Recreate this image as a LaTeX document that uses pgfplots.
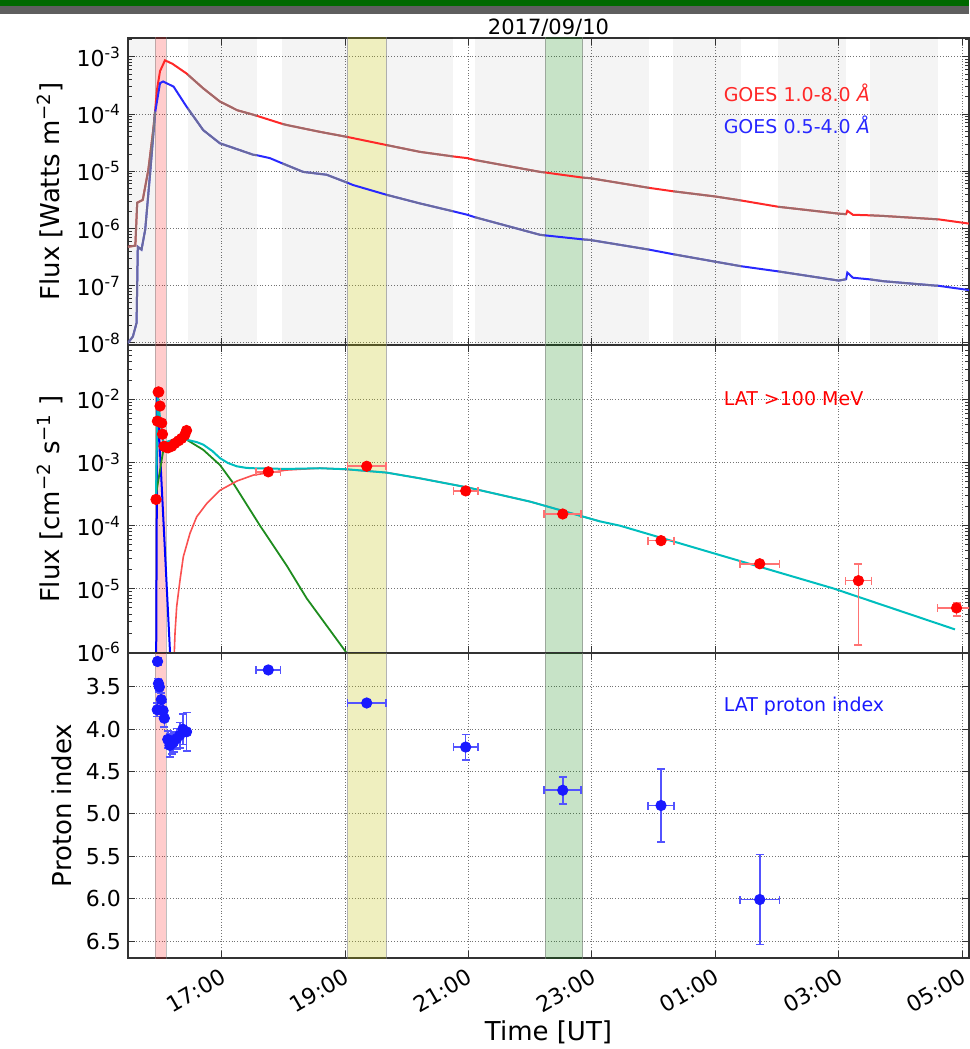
\documentclass[border=0pt]{standalone}
\usepackage{fontspec}
\setmainfont{DejaVu Sans}
\usepackage{pgfplots}
\pgfplotsset{compat=1.18}
\usepackage{pgfplotstable}

\definecolor{goesred}{RGB}{255,40,40}
\definecolor{goesblue}{RGB}{40,40,255}
\definecolor{fitcyan}{RGB}{0,190,190}
\definecolor{fitgreen}{RGB}{30,140,30}
\definecolor{fitred}{RGB}{250,80,80}
\definecolor{ptblue}{RGB}{25,25,255}
\definecolor{bandyel}{RGB}{191,191,0}
\definecolor{bandgrn}{RGB}{0,128,0}
\definecolor{topgreen}{RGB}{0,105,0}
\definecolor{topgrey}{RGB}{95,95,95}

% GOES 1.0-8.0 A
\pgfplotstableread{
t f
15.48 4.79e-7
15.60 5.01e-7
15.63 2.82e-6
15.72 3.16e-6
15.81 1.05e-5
15.89 5.25e-5
15.92 1.12e-4
15.95 2.63e-4
16.00 5.62e-4
16.08 8.71e-4
16.20 7.59e-4
16.43 5.13e-4
16.45 4.90e-4
16.70 2.82e-4
16.97 1.66e-4
17.25 1.17e-4
17.51 9.77e-5
17.57 9.33e-5
17.98 6.76e-5
18.05 6.46e-5
18.59 4.90e-5
19.04 3.98e-5
19.67 2.88e-5
20.21 2.19e-5
20.75 1.82e-5
20.98 1.70e-5
21.10 1.58e-5
22.16 9.77e-6
22.24 9.55e-6
22.85 7.76e-6
22.97 7.59e-6
23.93 5.13e-6
24.32 4.47e-6
25.00 3.63e-6
25.42 3.09e-6
26.02 2.40e-6
27.00 1.82e-6
27.12 1.78e-6
27.14 2.04e-6
27.23 1.74e-6
27.51 1.70e-6
27.72 1.66e-6
28.59 1.45e-6
28.61 1.45e-6
29.11 1.22e-6
}\goeslong

% GOES 0.5-4.0 A
\pgfplotstableread{
t f
15.48 1.0e-8
15.56 1.29e-8
15.62 2.24e-8
15.64 4.79e-7
15.70 4.27e-7
15.76 9.55e-7
15.84 9.33e-6
15.92 1.05e-4
16.00 3.47e-4
16.05 3.72e-4
16.22 3.02e-4
16.43 1.35e-4
16.45 1.26e-4
16.70 5.25e-5
16.97 3.09e-5
17.51 1.95e-5
17.57 1.91e-5
17.78 1.70e-5
17.98 1.38e-5
18.32 9.77e-6
18.70 8.71e-6
19.04 6.30e-6
19.13 5.75e-6
19.67 3.89e-6
20.21 2.75e-6
20.75 2.00e-6
20.98 1.74e-6
21.10 1.58e-6
22.16 7.76e-7
22.24 7.59e-7
22.85 6.46e-7
22.97 6.31e-7
23.93 4.27e-7
24.32 3.55e-7
25.00 2.63e-7
25.42 2.19e-7
26.02 1.78e-7
27.00 1.23e-7
27.12 1.30e-7
27.14 1.70e-7
27.23 1.38e-7
27.51 1.29e-7
27.72 1.20e-7
28.59 1.00e-7
28.61 1.00e-7
29.11 8.4e-8
}\goesshort

% LAT >100 MeV flux points
\pgfplotstableread{
t f
15.935 2.6e-4
15.957 4.5e-3
15.970 1.3e-2
15.980 1.3e-2
16.000 7.8e-3
16.027 4.2e-3
16.040 2.8e-3
16.065 1.8e-3
16.090 1.75e-3
16.130 1.7e-3
16.190 1.8e-3
16.240 2.0e-3
16.300 2.2e-3
16.350 2.4e-3
16.400 2.7e-3
16.430 3.2e-3
}\latearly

\pgfplotstableread{
t f ex ep em
17.755 7.1e-4 0.20 0.5e-4 0.5e-4
19.350 8.7e-4 0.31 0.6e-4 0.6e-4
20.954 3.55e-4 0.20 0.3e-4 0.3e-4
22.527 1.53e-4 0.30 1.5e-5 1.5e-5
24.120 5.8e-5 0.21 6e-6 6e-6
25.720 2.5e-5 0.32 3e-6 3e-6
27.320 1.35e-5 0.21 1.15e-5 1.22e-5
28.910 5.0e-6 0.31 1.0e-6 1.3e-6
}\latlate

% fit curves
\pgfplotstableread{
t f
15.935 3.1e-4
15.962 1.17e-2
16.000 5.0e-3
16.054 2.0e-3
16.150 2.19e-3
16.300 2.34e-3
16.432 2.29e-3
16.600 2.09e-3
16.702 1.91e-3
16.850 1.51e-3
16.972 1.17e-3
17.100 9.8e-4
17.243 8.7e-4
17.400 8.2e-4
17.513 8.1e-4
18.053 7.9e-4
18.593 8.1e-4
19.025 7.8e-4
19.674 6.9e-4
20.214 5.6e-4
21.000 4.0e-4
22.000 2.4e-4
23.130 1.17e-4
23.455 1.0e-4
25.020 3.55e-5
26.910 1.02e-5
28.885 2.29e-6
}\fittotal

\pgfplotstableread{
t f
15.935 3.1e-4
16.054 1.58e-3
16.200 2.09e-3
16.432 2.29e-3
16.702 1.58e-3
16.972 9.1e-4
17.188 4.68e-4
17.621 1.0e-4
18.053 2.34e-5
18.377 7.1e-6
19.015 1.0e-6
19.100 7.0e-7
}\fitimp

\pgfplotstableread{
t f
16.228 1e-7
16.232 1e-6
16.243 2.0e-6
16.270 5.25e-6
16.324 1.38e-5
16.378 3.24e-5
16.486 7.6e-5
16.594 1.38e-4
16.757 2.24e-4
16.972 3.63e-4
17.250 5.1e-4
17.513 6.31e-4
18.053 7.59e-4
18.593 8.13e-4
19.025 7.76e-4
19.674 6.92e-4
20.214 5.62e-4
21.000 4.0e-4
22.000 2.4e-4
23.130 1.17e-4
}\fitlate

\pgfplotstableread{
t f
15.934 1e-7
15.955 1.1e-2
16.162 1e-6
16.213 1e-7
}\fitspike

% LAT proton index
\pgfplotstableread{
t p ex ey
15.955 3.77 0 0.08
15.960 3.20 0 0.04
15.975 3.46 0 0.06
15.990 3.50 0 0.06
16.020 3.65 0 0.08
16.050 3.78 0 0.10
16.070 3.87 0 0.10
16.125 4.12 0 0.10
16.160 4.19 0 0.14
16.190 4.17 0 0.12
16.220 4.15 0 0.12
16.270 4.11 0 0.12
16.320 4.07 0 0.15
16.370 4.00 0 0.18
16.430 4.03 0 0.23
17.755 3.30 0.20 0.03
19.350 3.69 0.31 0.03
20.954 4.21 0.20 0.15
22.527 4.72 0.30 0.16
24.120 4.90 0.21 0.43
25.720 6.01 0.32 0.53
}\protidx

\pgfplotsset{
  panel/.style={
    width=420.5pt, scale only axis,
    xmin=15.481, xmax=29.112,
    xtick={17,19,21,23,25,27,29},
    grid=major,
    major grid style={densely dotted, black!55, line width=0.5pt},
    axis line style={line width=1.1pt, black!80},
    major tick length=3.5pt, minor tick length=2pt,
    every tick/.style={black!80, line width=0.5pt},
    tick label style={font=\fontsize{11}{13}\selectfont},
    label style={font=\fontsize{13}{15}\selectfont},
  },
  bandred/.style={draw=gray, draw opacity=0.5, line width=0.5pt, fill=red, fill opacity=0.2},
  bandyel/.style={draw=gray, draw opacity=0.6, line width=0.5pt, fill=bandyel, fill opacity=0.25},
  bandgrn/.style={draw=gray, draw opacity=0.6, line width=0.5pt, fill=bandgrn, fill opacity=0.22},
  bandgry/.style={draw=none, fill=black, fill opacity=0.045},
  gseg/.style={gray, opacity=0.75, line width=1pt, restrict x to domain=#1},
}

\newcommand{\bands}[2]{%
  \addplot[bandred] coordinates {(15.92,#1) (15.92,#2) (16.10,#2) (16.10,#1)} -- cycle;
  \addplot[bandyel] coordinates {(19.04,#1) (19.04,#2) (19.67,#2) (19.67,#1)} -- cycle;
  \addplot[bandgrn] coordinates {(22.24,#1) (22.24,#2) (22.85,#2) (22.85,#1)} -- cycle;
}
\newcommand{\greyband}[2]{%
  \addplot[bandgry] coordinates {(#1,1e-9) (#1,1e-2) (#2,1e-2) (#2,1e-9)} -- cycle;
}

\begin{document}
\begin{tikzpicture}
\useasboundingbox (0,0) rectangle (484.5pt,524.5pt);
\fill[topgreen] (0,521.5pt) rectangle (484.5pt,524.5pt);
\fill[topgrey] (0,517.5pt) rectangle (484.5pt,521.5pt);

% ---- GOES panel
\begin{axis}[panel, height=153.5pt,
  at={(64pt,352pt)}, anchor=south west,
  ymode=log, ymin=9.2e-9, ymax=2.14e-3,
  ytick={1e-8,1e-7,1e-6,1e-5,1e-4,1e-3},
  yticklabels={10\textsuperscript{-8},10\textsuperscript{-7},10\textsuperscript{-6},10\textsuperscript{-5},10\textsuperscript{-4},10\textsuperscript{-3}},
  minor ytick={2e-8,3e-8,4e-8,5e-8,6e-8,7e-8,8e-8,9e-8,
    2e-7,3e-7,4e-7,5e-7,6e-7,7e-7,8e-7,9e-7,
    2e-6,3e-6,4e-6,5e-6,6e-6,7e-6,8e-6,9e-6,
    2e-5,3e-5,4e-5,5e-5,6e-5,7e-5,8e-5,9e-5,
    2e-4,3e-4,4e-4,5e-4,6e-4,7e-4,8e-4,9e-4,2e-3},
  xticklabels={},
  ylabel={Flux [Watts m\textsuperscript{−2}]},
  title={2017/09/10},
  title style={font=\fontsize{10.5}{12}\selectfont, yshift=-9pt},
]
\greyband{15.48}{15.92}
\greyband{16.45}{17.57}
\greyband{17.98}{19.04}
\greyband{19.67}{20.75}
\greyband{21.10}{22.24}
\greyband{22.85}{23.93}
\greyband{24.32}{25.42}
\greyband{26.02}{27.12}
\greyband{27.51}{28.61}
\bands{1e-9}{1e-2}
\addplot[goesred, line width=1pt] table[x=t,y=f] {\goeslong};
\addplot[goesblue, line width=1pt] table[x=t,y=f] {\goesshort};
\pgfplotsinvokeforeach{15.479:15.921,16.449:17.571,17.979:19.041,19.669:20.751,21.099:22.241,22.849:23.931,24.319:25.421,26.019:27.121,27.509:28.611}{
  \addplot[gseg=#1] table[x=t,y=f] {\goeslong};
  \addplot[gseg=#1] table[x=t,y=f] {\goesshort};
}
\node[anchor=west, text=goesred, font=\fontsize{9.5}{11}\selectfont] at (axis description cs:0.70,0.821) {GOES 1.0-8.0 {\itshape Å}};
\node[anchor=west, text=goesblue, font=\fontsize{9.5}{11}\selectfont] at (axis description cs:0.70,0.717) {GOES 0.5-4.0 {\itshape Å}};
\end{axis}

% ---- LAT flux panel
\begin{axis}[panel, height=154pt,
  at={(64pt,198pt)}, anchor=south west,
  ymode=log, ymin=9.7e-7, ymax=7.2e-2,
  ytick={1e-6,1e-5,1e-4,1e-3,1e-2},
  yticklabels={10\textsuperscript{-6},10\textsuperscript{-5},10\textsuperscript{-4},10\textsuperscript{-3},10\textsuperscript{-2}},
  minor ytick={2e-6,3e-6,4e-6,5e-6,6e-6,7e-6,8e-6,9e-6,
    2e-5,3e-5,4e-5,5e-5,6e-5,7e-5,8e-5,9e-5,
    2e-4,3e-4,4e-4,5e-4,6e-4,7e-4,8e-4,9e-4,
    2e-3,3e-3,4e-3,5e-3,6e-3,7e-3,8e-3,9e-3,
    2e-2,3e-2,4e-2,5e-2,6e-2,7e-2},
  xticklabels={},
  ylabel={Flux [cm\textsuperscript{−2} s\textsuperscript{−1} ]},
]
\bands{1e-7}{1}
\addplot[blue, line width=1pt] table[x=t,y=f] {\fitspike};
\addplot[fitgreen, line width=0.9pt] table[x=t,y=f] {\fitimp};
\addplot[fitred, line width=0.8pt] table[x=t,y=f] {\fitlate};
\addplot[fitcyan, line width=1pt] table[x=t,y=f] {\fittotal};
\addplot[only marks, mark=*, mark size=2.6pt, color=red] table[x=t,y=f] {\latearly};
\addplot[only marks, mark=*, mark size=2.6pt, color=red,
  error bars/.cd, x dir=both, x explicit, y dir=both, y explicit,
  error bar style={red!55, line width=0.8pt},
  error mark options={red!55, mark size=2pt, line width=0.8pt, rotate=90}]
  table[x=t, y=f, x error=ex, y error plus=ep, y error minus=em] {\latlate};
\node[anchor=west, text=red, font=\fontsize{9.5}{11}\selectfont] at (axis description cs:0.70,0.825) {LAT >100 MeV};
\end{axis}

% ---- proton index panel
\begin{axis}[panel, height=152.5pt,
  at={(64pt,45.5pt)}, anchor=south west,
  y dir=reverse, ymin=3.1, ymax=6.7,
  ytick={3.5,4.0,4.5,5.0,5.5,6.0,6.5},
  yticklabels={3.5,4.0,4.5,5.0,5.5,6.0,6.5},
  xticklabels={17:00,19:00,21:00,23:00,01:00,03:00,05:00},
  x tick label style={rotate=30, anchor=north east},
  xlabel={Time [UT]},
  xlabel style={at={(axis description cs:0.5,0)}, anchor=center, yshift=-37pt},
  ylabel={Proton index},
]
\bands{3.0}{7.0}
\addplot[only marks, mark=*, mark size=2.6pt, color=ptblue,
  error bars/.cd, x dir=both, x explicit, y dir=both, y explicit,
  error bar style={ptblue!75, line width=0.8pt},
  error mark options={ptblue!75, mark size=2pt, line width=0.8pt, rotate=90}]
  table[x=t, y=p, x error=ex, y error=ey] {\protidx};
\node[anchor=west, text=ptblue, font=\fontsize{9.5}{11}\selectfont] at (axis description cs:0.70,0.826) {LAT proton index};
\end{axis}
\end{tikzpicture}
\end{document}
